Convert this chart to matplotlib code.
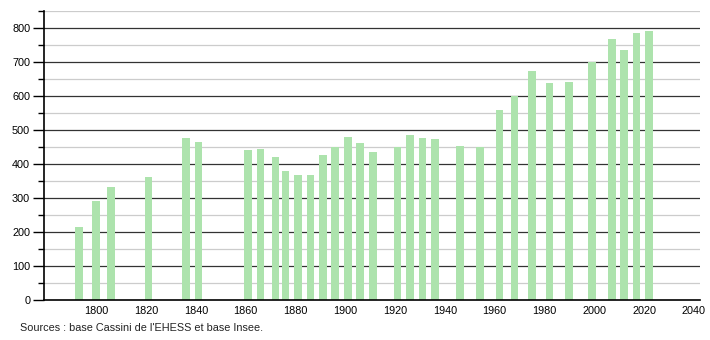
import matplotlib
matplotlib.use("Agg")
import matplotlib.pyplot as plt
import numpy as np

plt.rcParams['font.family'] = ['Liberation Sans', 'DejaVu Sans']

# recensements
annees = [1793, 1800, 1806, 1821, 1836, 1841,
          1861, 1866, 1872, 1876, 1881, 1886, 1891, 1896, 1901, 1906, 1911,
          1921, 1926, 1931, 1936, 1946, 1954, 1962, 1968, 1975, 1982, 1990,
          1999, 2007, 2012, 2017, 2022]
population = [214, 291, 333, 362, 477, 465,
              442, 445, 421, 378, 367, 367, 427, 450, 480, 461, 436,
              451, 485, 477, 473, 453, 449, 560, 601, 674, 639, 642,
              701, 768, 736, 786, 792]

xticks = list(range(1800, 2041, 20))
yticks = list(range(0, 801, 100))
source = "Sources : base Cassini de l'EHESS et base Insee."

fig = plt.figure(figsize=(7.1, 3.4), dpi=100)
ax = fig.add_axes([0.062, 0.1176, 0.924, 0.850])

# grille : gris clair tous les 50, foncé tous les 100
for v in range(50, 851, 100):
    ax.axhline(v, color='#cccccc', lw=0.9, zorder=0)
for v in yticks[1:]:
    ax.axhline(v, color='#333333', lw=0.9, zorder=0)

ax.bar(annees, population, width=3.1, color='#ade3ad', edgecolor='none', zorder=2)

ax.set_xlim(1779, 2042.5)
ax.set_ylim(0, 850)
ax.set_xticks(xticks)
ax.set_yticks(yticks)
ax.set_yticks(range(50, 851, 100), minor=True)
ax.tick_params(axis='x', length=0, labelsize=7.8, pad=4)
ax.tick_params(axis='y', which='major', length=8, width=1, labelsize=7.8, pad=2)
ax.tick_params(axis='y', which='minor', length=4, width=1)

for s in ['top', 'right']:
    ax.spines[s].set_visible(False)
ax.spines['left'].set_linewidth(1.2)
ax.spines['bottom'].set_linewidth(1.2)

fig.text(0.028, 0.027, source, fontsize=7.8, color='#222222')

fig.savefig('out.png', dpi=100)
